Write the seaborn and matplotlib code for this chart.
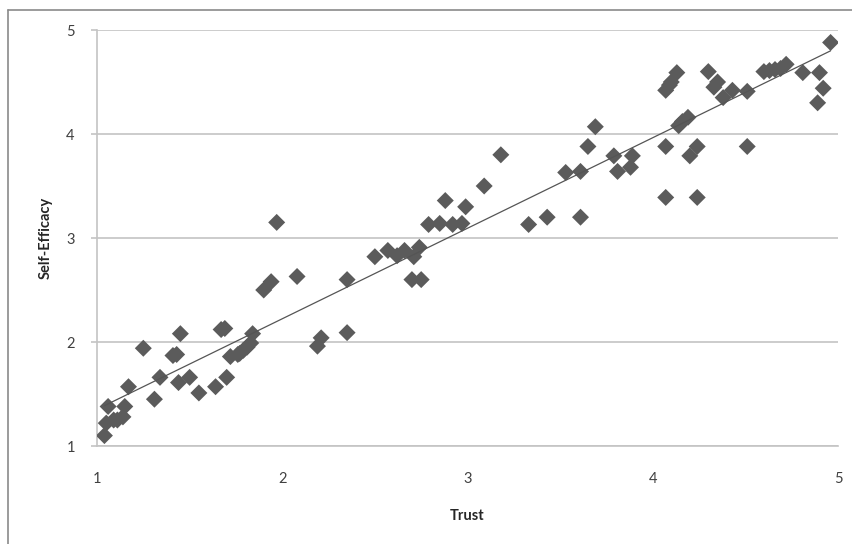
import pandas as pd
import matplotlib.pyplot as plt
import matplotlib.lines as mlines
import seaborn as sns

# Values
trust = [
    1.04, 1.05, 1.06, 1.09, 1.11, 1.14, 1.15, 1.17, 1.25, 1.31,
    1.34, 1.41, 1.43, 1.45, 1.44, 1.50, 1.55, 1.64, 1.67, 1.69,
    1.70, 1.72, 1.76, 1.77, 1.79, 1.81, 1.83, 1.84, 1.90, 1.94,
    1.97, 2.08, 2.21, 2.19, 2.35, 2.35, 2.50, 2.57, 2.62, 2.66,
    2.71, 2.74, 2.70, 2.75, 2.79, 2.85, 2.88, 2.92, 2.97, 2.99,
    3.09, 3.18, 3.33, 3.43, 3.53, 3.61, 3.61, 3.65, 3.69, 3.79,
    3.81, 3.88, 3.89, 4.07, 4.07, 4.07, 4.09, 4.10, 4.13, 4.14,
    4.16, 4.19, 4.20, 4.24, 4.24, 4.30, 4.33, 4.35, 4.38, 4.43,
    4.51, 4.51, 4.60, 4.63, 4.66, 4.69, 4.72, 4.81, 4.90, 4.89,
    4.92, 4.96,
]
self_efficacy = [
    1.10, 1.22, 1.38, 1.25, 1.25, 1.28, 1.38, 1.57, 1.94, 1.45,
    1.66, 1.87, 1.88, 2.08, 1.61, 1.66, 1.51, 1.57, 2.12, 2.13,
    1.66, 1.86, 1.88, 1.89, 1.92, 1.95, 1.99, 2.08, 2.50, 2.58,
    3.15, 2.63, 2.04, 1.96, 2.09, 2.60, 2.82, 2.88, 2.83, 2.88,
    2.82, 2.91, 2.60, 2.60, 3.13, 3.14, 3.36, 3.13, 3.14, 3.30,
    3.50, 3.80, 3.13, 3.20, 3.63, 3.20, 3.64, 3.88, 4.07, 3.79,
    3.64, 3.68, 3.79, 3.39, 3.88, 4.42, 4.47, 4.50, 4.59, 4.08,
    4.12, 4.16, 3.79, 3.88, 3.39, 4.60, 4.45, 4.50, 4.35, 4.42,
    4.41, 3.88, 4.60, 4.61, 4.62, 4.63, 4.67, 4.59, 4.59, 4.30,
    4.44, 4.88,
]
ticks = [1, 2, 3, 4, 5]

df = pd.DataFrame({'Trust': trust, 'Self-Efficacy': self_efficacy})

sns.set_style('white')
plt.rcParams['font.family'] = ['Lato', 'DejaVu Sans']

fig = plt.figure(figsize=(8.52, 5.44), dpi=100, facecolor='w')
ax = fig.add_axes([97 / 852, 1 - 446 / 544, 741 / 852, 416 / 544])

sns.scatterplot(
    ax=ax, data=df, x='Trust', y='Self-Efficacy', marker='D', s=75,
    color='#5b5b5b', edgecolor='none', zorder=3
)
sns.regplot(
    ax=ax, data=df, x='Trust', y='Self-Efficacy', scatter=False, ci=None,
    line_kws={'color': '#555555', 'linewidth': 0.9, 'zorder': 4}
)

ax.set_xlim(1, 5)
ax.set_ylim(1, 5)
ax.set_xticks(ticks)
ax.set_yticks(ticks)
ax.yaxis.grid(True, color='#c4c4c4', linewidth=1.2)
ax.xaxis.grid(False)
for side in ['top', 'right']:
    ax.spines[side].set_visible(False)
for side in ['left', 'bottom']:
    ax.spines[side].set_color('#c4c4c4')
    ax.spines[side].set_linewidth(1.2)
ax.tick_params(axis='y', left=True, length=4, width=1.2, color='#c4c4c4', pad=12,
               labelsize=10.5, labelcolor='#404040')
ax.tick_params(axis='x', bottom=False, pad=15, labelsize=10.5, labelcolor='#404040')
ax.set_xlabel('Trust', fontweight='bold', fontsize=10.5, labelpad=17)
ax.set_ylabel('Self-Efficacy', fontweight='bold', fontsize=10.5, labelpad=10)

# Outer chart frame (left and top edges visible)
fig.add_artist(mlines.Line2D([8 / 852, 8 / 852], [-0.01, 1 - 10 / 544],
                             transform=fig.transFigure, color='#8a8a8a', linewidth=1.2))
fig.add_artist(mlines.Line2D([8 / 852, 1.01], [1 - 10 / 544, 1 - 10 / 544],
                             transform=fig.transFigure, color='#8a8a8a', linewidth=1.2))

fig.savefig('out.png', dpi=100)
